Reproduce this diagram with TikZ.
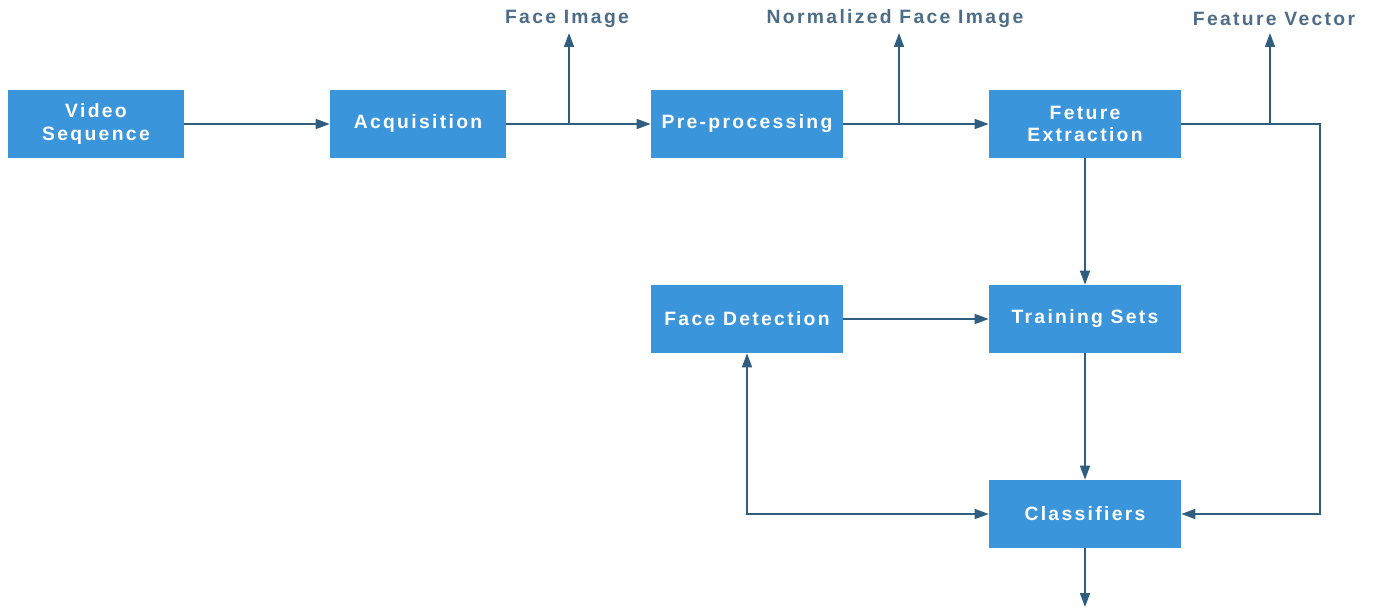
\documentclass[tikz,border=0pt]{standalone}
\usepackage{fontspec}
\setmainfont[LetterSpace=12]{Liberation Sans}
\usepackage{tikz}
\usetikzlibrary{arrows.meta}
\definecolor{boxblue}{HTML}{3A95DA}
\definecolor{linecol}{HTML}{2F5E80}
\definecolor{lblcol}{HTML}{4D6C88}

\begin{document}
\begin{tikzpicture}[x=0.02cm, y=-0.02cm,
  blk/.style={fill=boxblue, draw=none, minimum height=1.36cm, text=white, align=center,
    font=\fontsize{11}{13}\selectfont\bfseries},
  lbl/.style={text=lblcol, inner sep=1pt, font=\fontsize{11}{13}\selectfont\bfseries},
  conn/.style={draw=linecol, line width=0.9pt, -{Triangle[length=0.28cm, width=0.2cm]}}]
  \useasboundingbox (0, 0) rectangle (1373, 615);
  % blocks
  \node[blk, minimum width=3.52cm] (vid) at (96, 124) {Video\\Sequence};
  \node[blk, minimum width=3.52cm] (acq) at (418, 124) {Acquisition};
  \node[blk, minimum width=3.84cm] (pre) at (747, 124) {Pre-processing};
  \node[blk, minimum width=3.84cm] (fex) at (1085, 124) {Feture\\Extraction};
  \node[blk, minimum width=3.84cm] (fdet) at (747, 319) {Face Detection};
  \node[blk, minimum width=3.84cm] (tset) at (1085, 319) {Training Sets};
  \node[blk, minimum width=3.84cm] (cls) at (1085, 514) {Classifiers};
  % outputs
  \node[lbl] (fimg) at (567, 19) {Face Image};
  \node[lbl] (nimg) at (895, 19) {Normalized Face Image};
  \node[lbl] (fvec) at (1274, 19) {Feature Vector};
  \coordinate (b1) at (569, 124);
  \coordinate (b2) at (899, 124);
  \coordinate (b3) at (1270, 124);
  \coordinate (rt) at (1320, 124);
  \coordinate (out) at (1085, 607);
  % connectors
  \draw[conn] (vid) -- (acq);
  \draw[conn] (acq) -- (pre);
  \draw[conn] (pre) -- (fex);
  \draw[conn] (b1) -- (b1 |- 0, 33);
  \draw[conn] (b2) -- (b2 |- 0, 33);
  \draw[conn] (b3) -- (b3 |- 0, 33);
  \draw[conn] (fex.east) -- (rt) |- (cls.east);
  \draw[conn] (fex) -- (tset);
  \draw[conn] (fdet) -- (tset);
  \draw[conn] (tset) -- (cls);
  \draw[conn, {Triangle[length=0.28cm, width=0.2cm]}-{Triangle[length=0.28cm, width=0.2cm]}] (fdet.south) |- (cls.west);
  \draw[conn] (cls) -- (out);
\end{tikzpicture}
\end{document}
